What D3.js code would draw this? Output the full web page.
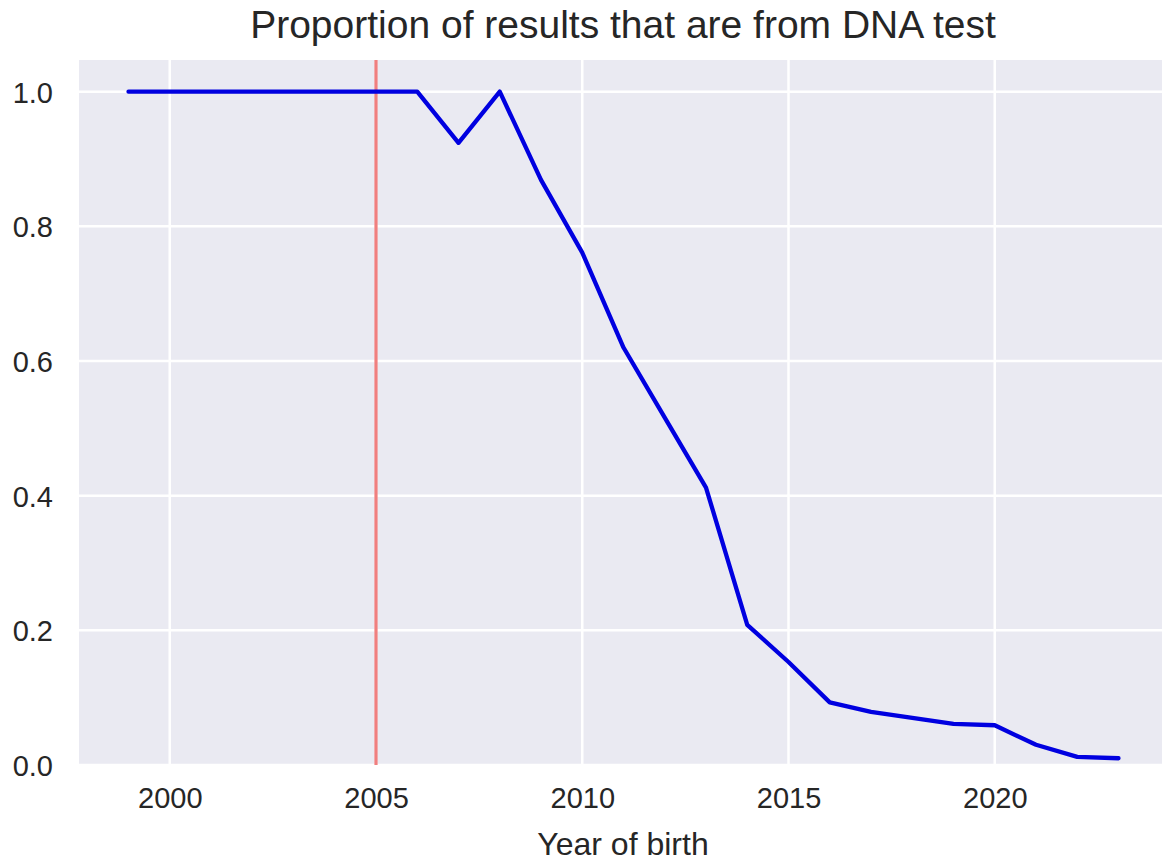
<!DOCTYPE html>
<html><head><meta charset="utf-8">
<script src="https://cdn.jsdelivr.net/npm/d3@7"></script>
<style>body{margin:0;background:#fff;}svg{display:block;font-family:"Liberation Sans",Arial,sans-serif;}</style>
</head><body>
<script>
const years = [1999,2000,2001,2002,2003,2004,2005,2006,2007,2008,2009,2010,2011,2012,2013,2014,2015,2016,2017,2018,2019,2020,2021,2022,2023];
const proportion = [1.0,1.0,1.0,1.0,1.0,1.0,1.0,1.0,0.924,1.0,0.869,0.761,0.62,0.516,0.412,0.208,0.153,0.093,0.079,0.07,0.061,0.059,0.03,0.012,0.01];
const xTicks = [2000,2005,2010,2015,2020];
const yTicks = [0.0,0.2,0.4,0.6,0.8,1.0];
const markerYear = 2005;
const title = "Proportion of results that are from DNA test";
const xLabel = "Year of birth";

const W = 1162, H = 861;
const svg = d3.select("body").append("svg").attr("width",W).attr("height",H);
const x = d3.scaleLinear().domain([1997.8,2024.2]).range([79,1168]);
const y = d3.scaleLinear().domain([0,1.047]).range([765,60]);

svg.append("rect").attr("x",79).attr("y",60).attr("width",W-79).attr("height",765-60).attr("fill","#eaeaf2");

const g = svg.append("g");
g.selectAll(".vg").data(xTicks).enter().append("line")
 .attr("x1",d=>x(d)).attr("x2",d=>x(d)).attr("y1",60).attr("y2",765)
 .attr("stroke","#fff").attr("stroke-width",2.5);
g.selectAll(".hg").data(yTicks).enter().append("line")
 .attr("x1",79).attr("x2",W).attr("y1",d=>y(d)).attr("y2",d=>y(d))
 .attr("stroke","#fff").attr("stroke-width",2.5);

const xa = svg.append("g").attr("transform","translate(0,765)")
 .call(d3.axisBottom(x).tickValues(xTicks).tickFormat(d3.format("d")).tickSize(0).tickPadding(0));
const ya = svg.append("g").attr("transform","translate(79,0)")
 .call(d3.axisLeft(y).tickValues(yTicks).tickFormat(d3.format(".1f")).tickSize(0).tickPadding(26));
[xa,ya].forEach(a=>{a.select(".domain").remove();a.selectAll("text").attr("font-size",29).attr("fill","#262626").attr("font-family","Liberation Sans, Arial, sans-serif");});
xa.selectAll("text").attr("dy",0).attr("y",43);
ya.selectAll("text").attr("dy","0.36em");

svg.append("line").attr("x1",x(markerYear)).attr("x2",x(markerYear)).attr("y1",60).attr("y2",765)
 .attr("stroke","#f07f7f").attr("stroke-width",3.2);

const line = d3.line().x((d,i)=>x(years[i])).y(d=>y(d));
svg.append("path").datum(proportion).attr("d",line).attr("fill","none")
 .attr("stroke","#0000e0").attr("stroke-width",4.3).attr("stroke-linejoin","round").attr("stroke-linecap","round");

svg.append("text").attr("x",623).attr("y",38).attr("text-anchor","middle")
 .attr("font-size",39).attr("fill","#262626").text(title);
svg.append("text").attr("x",623).attr("y",855).attr("text-anchor","middle")
 .attr("font-size",32).attr("fill","#262626").text(xLabel);
</script>
</body></html>
